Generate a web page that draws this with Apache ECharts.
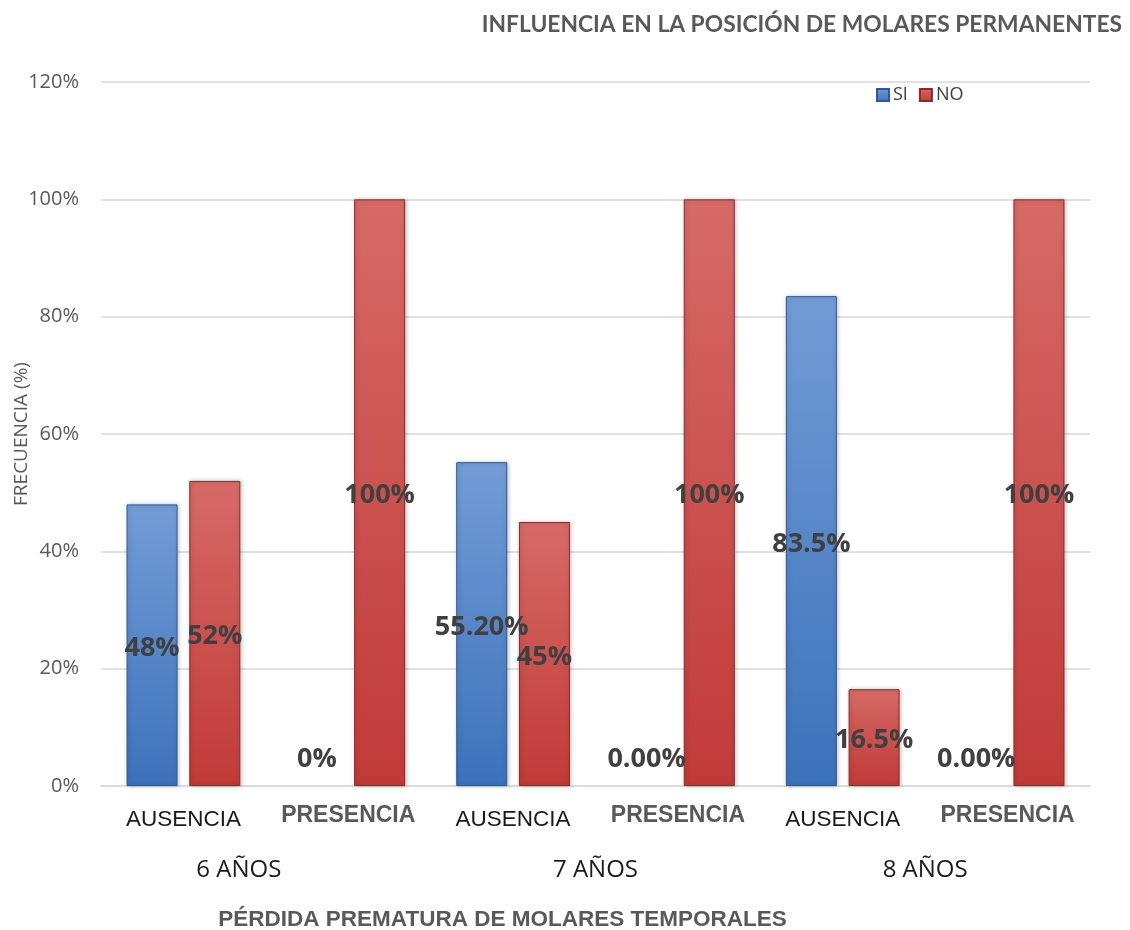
<!DOCTYPE html>
<html>
<head>
<meta charset="utf-8">
<script src="https://cdn.jsdelivr.net/npm/echarts@6/dist/echarts.min.js"></script>
<style>
  html, body { margin: 0; padding: 0; background: #ffffff; }
  #chart { width: 1130px; height: 930px; }
</style>
</head>
<body>
<div id="chart"></div>
<script>
// Categories: tooth-loss status within each age group
const categories = ['AUSENCIA', 'PRESENCIA', 'AUSENCIA', 'PRESENCIA', 'AUSENCIA', 'PRESENCIA'];
const ageGroups = ['6 AÑOS', '7 AÑOS', '8 AÑOS'];

// Frequencies (%) for each answer
const siValues = [48, 0, 55.2, 0, 83.5, 0];
const noValues = [52, 100, 45, 100, 16.5, 100];

// Printed value labels, as written on the bars
const siLabels = ['48%', '0%', '55.20%', '0.00%', '83.5%', '0.00%'];
const noLabels = ['52%', '100%', '45%', '100%', '16.5%', '100%'];

const yTicks = { min: 0, max: 120, interval: 20 };

const chart = echarts.init(document.getElementById('chart'), null, { renderer: 'canvas' });

function grad(top, bottom) {
  return new echarts.graphic.LinearGradient(0, 0, 0, 1, [
    { offset: 0, color: top },
    { offset: 1, color: bottom }
  ]);
}

const labelFont = {
  fontFamily: 'Open Sans',
  fontWeight: 'bold',
  fontSize: 27,
  color: '#404040'
};

function buildData(values, labels) {
  return values.map((v, i) => {
    const item = { value: v, label: { formatter: labels[i] } };
    if (v === 0) {
      item.label.position = 'top';
      item.label.distance = 16;
      item.itemStyle = { borderWidth: 0, shadowBlur: 0 };
    }
    return item;
  });
}

const barCommon = {
  type: 'bar',
  barWidth: 51,
  barGap: '23%',
  label: Object.assign({ show: true, position: 'inside', offset: [0, 3] }, labelFont),
  emphasis: { disabled: true }
};

const option = {
  animation: false,
  backgroundColor: '#ffffff',
  title: {
    text: 'INFLUENCIA EN LA POSICIÓN DE MOLARES PERMANENTES',
    right: 3,
    top: 8,
    textStyle: {
      fontFamily: 'Lato',
      fontWeight: 'bold',
      fontSize: 22.8,
      color: '#595959'
    }
  },
  legend: {
    left: 871,
    top: 81,
    itemWidth: 12,
    itemHeight: 12,
    itemGap: 11,
    icon: 'rect',
    textStyle: { fontFamily: 'Open Sans', fontSize: 18, color: '#404040', padding: [0, 0, 0, -1] },
    data: ['SI', 'NO']
  },
  grid: { left: 101, right: 40, top: 82, bottom: 144, outerBoundsMode: 'none', containLabel: false },
  xAxis: [
    {
      type: 'category',
      data: categories,
      axisLine: { show: true, lineStyle: { color: '#d9d9d9', width: 1.5 } },
      axisTick: { show: false },
      axisLabel: {
        interval: 0,
        margin: 18,
        formatter: v => v === 'PRESENCIA' ? '{p|' + v + '}' : '{a|' + v + '}',
        rich: {
          a: { fontFamily: 'Liberation Sans', fontSize: 22.5, color: '#1a1a1a', padding: [4, 0, 0, 0] },
          p: { fontFamily: 'Liberation Sans', fontWeight: 'bold', fontSize: 23, color: '#595959' }
        }
      }
    },
    {
      type: 'category',
      position: 'bottom',
      offset: 72,
      data: ageGroups.map((g, i) => i === 0
        ? { value: g, textStyle: { padding: [0, 54, 0, 0] } }
        : g),
      axisLine: { show: false },
      axisTick: { show: false },
      axisLabel: {
        interval: 0,
        margin: 0,
        fontFamily: 'Open Sans',
        fontSize: 24,
        color: '#1a1a1a'
      },
      name: 'PÉRDIDA PREMATURA DE MOLARES TEMPORALES',
      nameLocation: 'middle',
      nameGap: 50,
      nameTextStyle: {
        fontFamily: 'Liberation Sans',
        fontWeight: 'bold',
        fontSize: 22.5,
        color: '#595959',
        padding: [0, 186, 0, 0]
      }
    }
  ],
  yAxis: {
    type: 'value',
    min: yTicks.min,
    max: yTicks.max,
    interval: yTicks.interval,
    axisLine: { show: false },
    axisTick: { show: false },
    splitLine: { lineStyle: { color: '#d9d9d9', width: 1.5 } },
    axisLabel: {
      formatter: '{value}%',
      margin: 22,
      fontFamily: 'Open Sans',
      fontSize: 20,
      color: '#595959'
    },
    name: 'FRECUENCIA (%)',
    nameLocation: 'middle',
    nameGap: 70,
    nameMoveOverlap: false,
    nameRotate: 90,
    nameTextStyle: {
      fontFamily: 'Open Sans',
      fontSize: 19,
      color: '#595959'
    }
  },
  series: [
    Object.assign({}, barCommon, {
      name: 'SI',
      itemStyle: {
        color: grad('#739cd6', '#3c72bb'),
        borderColor: '#2f5a94',
        borderWidth: 1,
        shadowColor: 'rgba(0,0,0,0.25)',
        shadowBlur: 4,
        shadowOffsetX: 1
      },
      data: buildData(siValues, siLabels)
    }),
    Object.assign({}, barCommon, {
      name: 'NO',
      itemStyle: {
        color: grad('#d66a67', '#c13a38'),
        borderColor: '#8e2a29',
        borderWidth: 1,
        shadowColor: 'rgba(0,0,0,0.25)',
        shadowBlur: 4,
        shadowOffsetX: 1
      },
      data: buildData(noValues, noLabels)
    })
  ]
};

chart.setOption(option);
</script>
</body>
</html>
